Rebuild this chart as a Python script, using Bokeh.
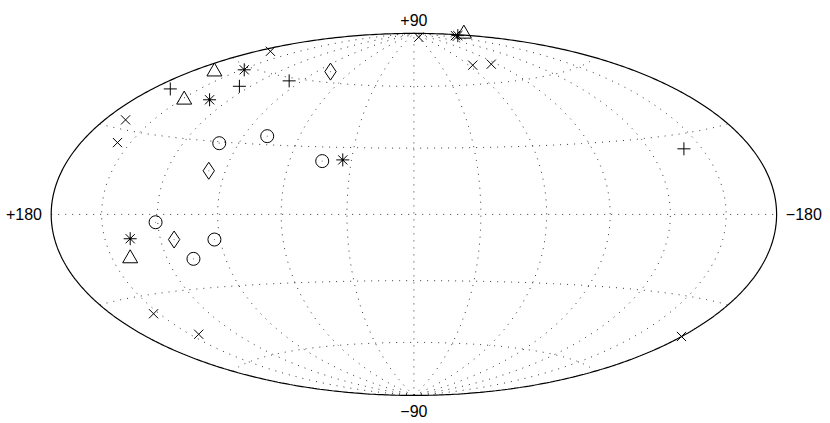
import numpy as np
from bokeh.plotting import figure
from bokeh.models import Range1d
from bokeh.core.properties import value
from bokeh.embed import file_html
from bokeh.resources import INLINE

# marker values in projected sky units (x: -180..180, y: -90..90)
cross_x = [-71.2, -143.1, -147.1, 2.4, 20.6, 29.2, 38.4, -129.2, -106.8, 132.8]
cross_y = [81.1, 47.0, 35.7, 88.1, 88.9, 74.2, 74.7, -49.4, -59.6, -60.7]
plus_x = [-120.9, -86.6, -61.9, 134.0]
plus_y = [62.4, 63.7, 66.4, 32.6]
star_x = [-84.2, -101.4, -35.3, 21.8, -140.8]
star_y = [71.9, 57.0, 27.1, 88.9, -12.1]
tri_x = [-99.0, -114.0, 24.8, -140.8]
tri_y = [71.0, 57.0, 89.8, -21.9]
circ_x = [-96.6, -72.8, -45.5, -128.2, -99.0, -109.4]
circ_y = [35.4, 38.9, 26.5, -3.9, -12.5, -22.1]
diam_x = [-41.4, -101.8, -119.0]
diam_y = [71.0, 21.7, -12.5]

label_text = ["+90", "\u221290", "+180", "\u2212180"]
label_x = [0, 0, -193.5, 193.5]
label_y = [96.5, -97.8, 0, 0]
meridians = [-150, -120, -90, -60, -30, 0, 30, 60, 90, 120, 150]
parallels = [-60, -30, 0, 30, 60]


def hammer(lon, lat):
    lam = np.radians(lon) / 2
    phi = np.radians(lat)
    d = np.sqrt(1 + np.cos(phi) * np.cos(lam))
    return 180 * np.cos(phi) * np.sin(lam) / d, 90 * np.sin(phi) / d


W, H = 822, 420
ux, uy = 180 / 362.7, 90 / 181.0
p = figure(width=W, height=H, output_backend="svg", toolbar_location=None,
           x_range=Range1d((0 - 413.4) * ux, (W - 413.4) * ux),
           y_range=Range1d((213.9 - H) * uy, 213.9 * uy),
           min_border=0, outline_line_color=None)
p.axis.visible = False
p.grid.visible = False

DOTS = dict(line_color="black", line_width=1, line_dash="1 6", line_alpha=0.8)
for lon in meridians:
    x, y = hammer(np.full(181, float(lon)), np.linspace(-90, 90, 181))
    p.line(x, y, **DOTS)
for lat in parallels:
    x, y = hammer(np.linspace(-180, 180, 361), np.full(361, float(lat)))
    p.line(x, y, **DOTS)

t = np.linspace(-90, 90, 361)
for lon in (-180.0, 180.0):
    x, y = hammer(np.full(361, lon), t)
    p.line(x, y, line_color="black", line_width=1.2)

M = dict(fill_color=None, line_color="black", line_width=1)
p.scatter(cross_x, cross_y, marker="x", size=13, **M)
p.scatter(plus_x, plus_y, marker="cross", size=13, **M)
p.scatter(star_x, star_y, marker="asterisk", size=13, **M)
p.scatter(tri_x, tri_y, marker="triangle", size=15, **M)
p.scatter(circ_x, circ_y, marker="circle", size=13, **M)
p.scatter(diam_x, diam_y, marker="diamond", size=17, **M)
p.scatter(star_x, star_y, marker="circle", size=2.5, fill_color="black", line_color=None)
p.scatter(circ_x + diam_x, circ_y + diam_y, marker="circle", size=1.2,
          fill_color="#777777", line_color=None)

lab = dict(text_font=value("Liberation Sans"), text_font_size="16px", text_color="black",
           text_baseline="middle")
p.text(label_x, label_y, text=label_text, text_align="center", **lab)

open("out.html", "w").write(file_html(p, INLINE))
